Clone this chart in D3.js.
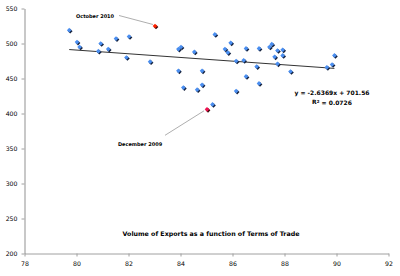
<!DOCTYPE html>
<html>
<head>
<meta charset="utf-8">
<script src="https://cdn.jsdelivr.net/npm/d3@7"></script>
<style>
  body { margin: 0; background: #fff; }
  svg { display: block; font-family: "DejaVu Sans", Verdana, sans-serif; }
</style>
</head>
<body>
<svg id="chart" width="400" height="276"></svg>
<script>
// terms of trade (x) and volume of exports (y), monthly observations
var termsOfTrade = [79.72, 80.02, 80.12, 80.84, 80.93, 81.22, 81.52, 81.92, 82.02, 82.83,
    83.92, 84.02, 83.92, 84.11, 84.53, 84.64, 84.83, 84.83, 85.23, 85.32,
    85.71, 85.82, 85.93, 86.14, 86.14, 86.43, 86.52, 86.52, 86.93, 87.02,
    87.02, 87.42, 87.51, 87.62, 87.73, 87.73, 87.93, 87.93, 88.23, 89.63,
    89.83, 89.92];
var exportVolume = [519, 502, 495, 489, 500, 492, 507, 480, 510, 474,
    492, 495, 461, 437, 488, 434, 461, 441, 413, 513,
    492, 487, 501, 475, 432, 476, 493, 453, 467, 493,
    443, 495, 499, 481, 490, 471, 491, 483, 460, 466,
    470, 483];
var highlightLabels = ['October 2010', 'December 2009'];
var highlightX = [83.02, 85.02];
var highlightY = [525, 406];
var highlightColors = ['#ff2200', '#ee1150'];
var xTicks = [78, 80, 82, 84, 86, 88, 90, 92];
var yTicks = [200, 250, 300, 350, 400, 450, 500, 550];
var trendSlope = -2.6369, trendIntercept = 701.56, trendR2 = 0.0726;
var chartTitle = 'Volume of Exports as a function of Terms of Trade';

var svg = d3.select('#chart');
var x = d3.scaleLinear().domain([78, 92]).range([24.5, 388.5]);
var y = d3.scaleLinear().domain([200, 550]).range([253.5, 8.5]);

// axes
var yAxis = svg.append('g')
    .attr('transform', 'translate(' + x(78) + ',0)')
    .call(d3.axisLeft(y).tickValues(yTicks).tickSize(3).tickPadding(4).tickSizeOuter(0));
var xAxis = svg.append('g')
    .attr('transform', 'translate(0,' + y(200) + ')')
    .call(d3.axisBottom(x).tickValues(xTicks).tickSize(3).tickPadding(5).tickSizeOuter(0));

yAxis.select('path.domain').style('stroke', '#c8c8c8').style('stroke-width', 2);
xAxis.select('path.domain').style('stroke', '#a0a0a0').style('stroke-width', 1);
svg.selectAll('.tick line').style('stroke', '#a0a0a0');
svg.selectAll('.tick text')
    .style('font-family', '"DejaVu Sans", Verdana, sans-serif')
    .style('font-size', '6.2px')
    .style('fill', '#000');

// trendline over the data range
var allX = termsOfTrade.concat(highlightX);
var xr = d3.extent(allX);
svg.append('line')
    .attr('x1', x(xr[0])).attr('y1', y(trendSlope * xr[0] + trendIntercept))
    .attr('x2', x(xr[1])).attr('y2', y(trendSlope * xr[1] + trendIntercept))
    .style('stroke', '#333')
    .style('stroke-width', 1);

// square diamond marker
var diamond = d3.symbol().type(d3.symbolSquare).size(11);
function at(px, py) { return 'translate(' + px + ',' + py + ') rotate(45)'; }

// points with a dark drop shadow
var pts = termsOfTrade.map(function(v, i) { return [v, exportVolume[i]]; });
svg.append('g').selectAll('path')
    .data(pts).enter().append('path')
    .attr('d', diamond)
    .attr('transform', function(d) { return at(x(d[0]) + 1, y(d[1]) + 1); })
    .style('fill', '#14213d');
svg.append('g').selectAll('path')
    .data(pts).enter().append('path')
    .attr('d', diamond)
    .attr('transform', function(d) { return at(x(d[0]), y(d[1])); })
    .style('fill', '#4a8ef0');

// highlighted months
var hl = highlightX.map(function(v, i) {
    return { x: v, y: highlightY[i], label: highlightLabels[i], color: highlightColors[i] };
});
svg.append('g').selectAll('path')
    .data(hl).enter().append('path')
    .attr('d', diamond)
    .attr('transform', function(d) { return at(x(d.x) + 1, y(d.y) + 1); })
    .style('fill', '#3a0a0a');
svg.append('g').selectAll('path')
    .data(hl).enter().append('path')
    .attr('d', diamond)
    .attr('transform', function(d) { return at(x(d.x), y(d.y)); })
    .style('fill', function(d) { return d.color; });

// callouts: [line start dx, dy, line end dx, dy, text x, text y] relative to the point
var callouts = [[-36, -10.5, -2, -1.5, -60, -9], [-42, 26, -3, 1.5, -67, 35]];
hl.forEach(function(d, i) {
    var c = callouts[i], px = x(d.x), py = y(d.y);
    svg.append('line')
        .attr('x1', px + c[0]).attr('y1', py + c[1])
        .attr('x2', px + c[2]).attr('y2', py + c[3])
        .style('stroke', '#999').style('stroke-width', 0.8);
    svg.append('text')
        .attr('x', px + c[4]).attr('y', py + c[5])
        .attr('text-anchor', 'middle')
        .attr('dominant-baseline', 'middle')
        .style('font-size', '5px').style('font-weight', 'bold')
        .text(d.label);
});

// trendline equation
var eq = svg.append('text')
    .attr('x', 332).attr('y', 93)
    .attr('text-anchor', 'middle')
    .style('font-size', '6px').style('font-weight', 'bold');
eq.append('tspan').attr('x', 332).attr('dy', '0.35em')
    .text('y = ' + trendSlope + 'x + ' + trendIntercept);
var r2 = eq.append('tspan').attr('x', 332).attr('dy', '1.5em').text('R');
r2.append('tspan').attr('dy', '-0.4em').style('font-size', '4px').text('2');
r2.append('tspan').attr('dy', '0.4em').text(' = ' + trendR2);

// title
svg.append('text')
    .attr('x', 211).attr('y', 234)
    .attr('text-anchor', 'middle')
    .attr('dominant-baseline', 'middle')
    .style('font-size', '6.3px').style('font-weight', 'bold')
    .text(chartTitle);
</script>
</body>
</html>
